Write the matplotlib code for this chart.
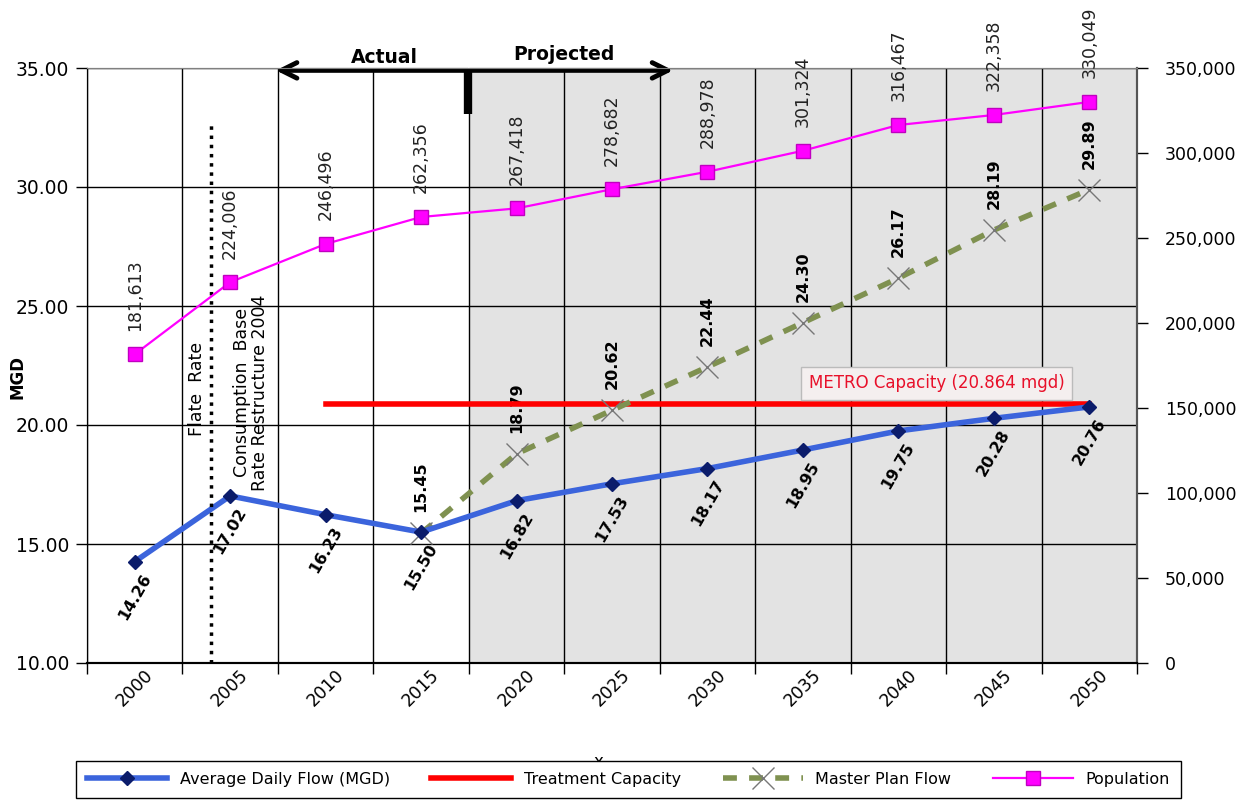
import numpy as np
import matplotlib
matplotlib.use("Agg")
from matplotlib import pyplot as plt
from matplotlib.ticker import FuncFormatter, FixedLocator

# Chart data
years = ["2000", "2005", "2010", "2015", "2020", "2025", "2030", "2035", "2040", "2045", "2050"]
avg_flow = [14.26, 17.02, 16.23, 15.50, 16.82, 17.53, 18.17, 18.95, 19.75, 20.28, 20.76]
master_plan = [None, None, None, 15.45, 18.79, 20.62, 22.44, 24.30, 26.17, 28.19, 29.89]
capacity = [None, None, 20.864, 20.864, 20.864, 20.864, 20.864, 20.864, 20.864, 20.864, 20.864]
population = [181613, 224006, 246496, 262356, 267418, 278682, 288978, 301324, 316467, 322358, 330049]

plt.rcParams['font.family'] = ['DejaVu Sans']

x = np.arange(len(years))
mp = np.array([np.nan if v is None else v for v in master_plan])
cap = np.array([np.nan if v is None else v for v in capacity])

fig = plt.figure(figsize=(12.52, 8.01), dpi=100)
ax = fig.add_axes([87 / 1252, 1 - 663 / 801, 1050 / 1252, 595 / 801])
ax2 = ax.twinx()

# Projected period shading
ax.axvspan(3.5, 10.5, color="#E3E3E3", zorder=0, lw=0)

# Left axis setup
ax.set_xlim(-0.5, 10.5)
ax.set_ylim(10, 35)
ax.set_yticks([10, 15, 20, 25, 30, 35])
ax.yaxis.set_major_formatter(FuncFormatter(lambda v, p: "%.2f" % v))
ax.xaxis.set_major_locator(FixedLocator(np.arange(-0.5, 11, 1)))
ax.xaxis.set_minor_locator(FixedLocator(x))
ax.set_xticklabels([], minor=False)
ax.set_xticklabels(years, minor=True, rotation=45, fontsize=12.5)
ax.tick_params(axis="x", which="minor", length=0, pad=2)
ax.tick_params(axis="x", which="major", length=8, width=1)
ax.tick_params(axis="y", length=8, width=1, labelsize=13.5, pad=5)
ax.grid(True, which="major", color="black", lw=1, zorder=1)
ax.set_axisbelow(True)
ax.set_ylabel("MGD", fontsize=12, fontweight="bold")
ax.yaxis.set_label_coords(-0.058, 0.48)
# axis title mostly hidden behind the legend, as in the original
ax.set_xlabel("x", fontsize=12)
ax.xaxis.set_label_coords(0.487, -0.151)

# Right axis (population)
ax2.set_ylim(0, 350000)
ax2.set_yticks(np.arange(0, 350001, 50000))
ax2.yaxis.set_major_formatter(FuncFormatter(lambda v, p: "{:,.0f}".format(v)))
ax2.tick_params(axis="y", length=8, width=1, labelsize=12.5, pad=12)

for a in (ax, ax2):
    a.spines["top"].set_color("#808080")
    a.spines["right"].set_color("#555555")
    a.spines["left"].set_color("black")
    a.spines["bottom"].set_color("black")
    a.spines["right"].set_linewidth(1.5)
    a.spines["bottom"].set_linewidth(1.5)

# Lines
ax.plot(x, cap, color="#FF0000", lw=4, zorder=3, label="Treatment Capacity")
ax.plot(x, mp, color="#7F9150", lw=4, ls=(0, (2.5, 2.2)), zorder=4,
        marker="x", markersize=16, markeredgecolor="#777777", markeredgewidth=1.0,
        label="Master Plan Flow")
ax.plot(x, avg_flow, color="#3B64DC", lw=4, zorder=5, marker="D", markersize=7,
        markerfacecolor="#0B1C6B", markeredgecolor="#0B1C6B", label="Average Daily Flow (MGD)")
ax2.plot(x, population, color="#FF00FF", lw=1.6, marker="s", markersize=10,
         markerfacecolor="#FF00FF", markeredgecolor="#C000C0", zorder=5, label="Population")

# Data labels
for xi, v in zip(x, avg_flow):
    ax.annotate("%.2f" % v, (xi, v), xytext=(0, -25), textcoords="offset points",
                rotation=60, ha="center", va="center", fontsize=11.5, fontweight="bold", zorder=6)
for xi, v in zip(x, mp):
    if not np.isnan(v):
        ax.annotate("%.2f" % v, (xi, v), xytext=(0, 15), textcoords="offset points",
                    rotation=90, ha="center", va="bottom", fontsize=11.5, fontweight="bold", zorder=2)
for xi, v in zip(x, population):
    ax2.annotate("{:,}".format(v), (xi, v), xytext=(0, 17), textcoords="offset points",
                 rotation=90, ha="center", va="bottom", fontsize=12.5, color="#222222",
                 annotation_clip=False)

# Rate structure change marker
ax.plot([0.8, 0.8], [10, 32.6], color="black", lw=2.5, ls=":", zorder=6)
ax.text(0.65, 21.5, "Flate  Rate", rotation=90, ha="center", va="center", fontsize=12.5)
ax.text(1.22, 21.35, "Consumption  Base\nRate Restructure 2004", rotation=90,
        ha="center", va="center", multialignment="center", fontsize=12.5, linespacing=1.0)

# METRO capacity note
ax.text(8.4, 21.75, "METRO Capacity (20.864 mgd)", color="#E8102A", fontsize=12,
        ha="center", va="center", zorder=7,
        bbox=dict(boxstyle="square,pad=0.45", facecolor="#F4EFEF", edgecolor="#BBBBBB", lw=1))

# Actual / Projected arrows
ax.annotate("", xy=(1.45, 34.9), xytext=(3.52, 34.9), annotation_clip=False,
            arrowprops=dict(arrowstyle="->", lw=3.5, color="black", mutation_scale=28))
ax.annotate("", xy=(5.67, 34.9), xytext=(3.48, 34.9), annotation_clip=False,
            arrowprops=dict(arrowstyle="->", lw=3.5, color="black", mutation_scale=28))
ax.plot([3.49, 3.49], [35.0, 33.05], color="black", lw=6, clip_on=False, zorder=8,
        solid_capstyle="butt")
ax.text(2.62, 35.45, "Actual", fontsize=13.5, fontweight="bold", ha="center", va="center")
ax.text(4.5, 35.55, "Projected", fontsize=13.5, fontweight="bold", ha="center", va="center")

# Legend at bottom
h1, l1 = ax.get_legend_handles_labels()
h2, l2 = ax2.get_legend_handles_labels()
order = [2, 0, 1]
handles = [h1[i] for i in order] + h2
labels = [l1[i] for i in order] + l2
leg = fig.legend(handles, labels, loc="center", bbox_to_anchor=(0.502, 0.027), ncol=4,
                 fontsize=11.5, frameon=True, fancybox=False, edgecolor="black",
                 framealpha=1, handlelength=5.0, columnspacing=2.6, borderpad=0.7,
                 borderaxespad=0)
leg.get_frame().set_linewidth(1)
leg.set_zorder(10)

fig.savefig("out.png", dpi=100)
